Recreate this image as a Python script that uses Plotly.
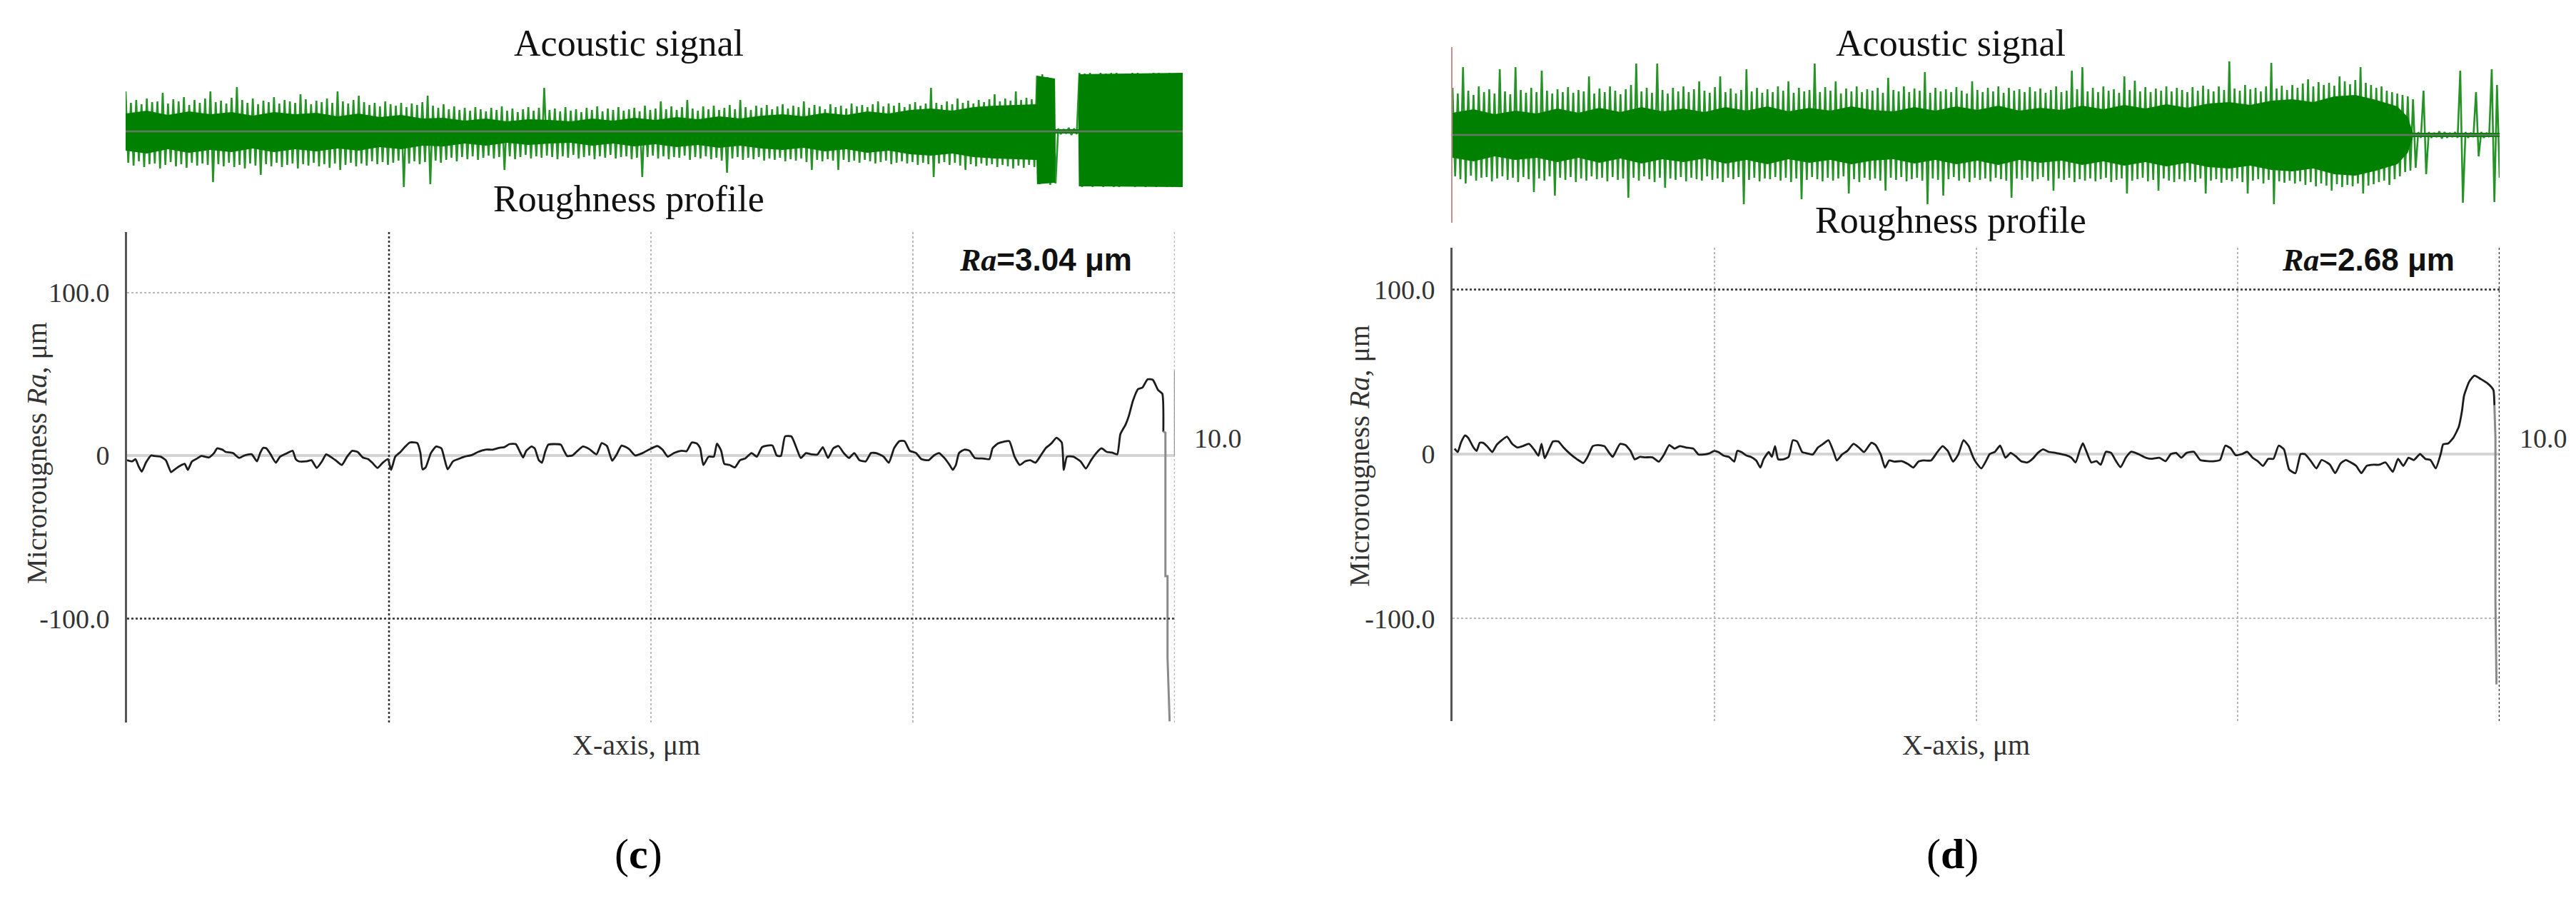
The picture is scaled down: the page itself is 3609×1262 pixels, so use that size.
import plotly.graph_objects as go

# canvas size
W, H = 3609, 1262

# ---- roughness profile (c) ----
rough_c_x = [0.0, 0.5, 0.8, 1.1, 1.4, 1.8, 2.3, 2.6, 3.2, 3.7, 4.2, 4.5, 5.0, 5.5, 5.8, 6.2, 6.7, 7.1,
             7.8, 8.3, 8.6, 9.1, 9.4, 10.1, 10.7, 11.2, 11.9, 12.4, 12.7, 13.0, 13.3, 13.7, 14.2, 14.6,
             15.3, 15.8, 16.1, 16.4, 17.1, 17.6, 18.1, 18.6, 19.0, 19.4, 19.9, 20.5, 21.0, 21.5, 22.0,
             22.5, 23.0, 23.4, 23.9, 24.4, 24.9, 25.2, 25.6, 26.1, 26.5, 27.0, 27.7, 28.0, 28.2, 28.5,
             29.0, 29.5, 30.0, 30.3, 30.6, 31.1, 31.6, 32.2, 32.9, 33.5, 34.2, 34.9, 35.5, 36.0, 36.5,
             37.1, 37.5, 37.8, 38.1, 38.6, 38.9, 39.3, 39.6, 39.9, 40.2, 40.7, 41.4, 41.7, 42.0, 42.5,
             43.0, 43.5, 44.1, 44.8, 45.3, 45.8, 46.3, 46.7, 47.2, 47.9, 48.5, 49.2, 49.8,
             50.6, 51.1, 51.6, 52.2, 52.9, 53.4, 53.9, 54.4, 54.7, 55.0, 55.5, 56.0, 56.3, 56.7, 57.0,
             57.5, 58.0, 58.5, 59.0, 59.6, 60.1, 60.6, 61.1, 61.6, 62.0, 62.4, 62.8, 63.4, 63.9, 64.3,
             64.8, 65.3, 65.9, 66.4, 66.9, 67.4, 67.9, 68.4, 68.9, 69.4, 69.9, 70.5, 71.0, 71.5, 72.2,
             72.7, 73.2, 73.7, 74.2, 74.7, 75.3, 75.8, 76.5, 77.0, 77.5, 78.0, 78.5, 78.8, 79.1, 79.4,
             79.9, 80.4, 80.9, 81.6, 82.3, 82.6, 83.1, 83.7, 84.2, 84.7, 85.2, 85.7, 86.2, 86.7, 87.2,
             87.7, 88.2, 88.7, 89.2, 89.4, 89.7, 90.3, 91.0, 91.5, 92.0, 92.5, 93.0, 93.5, 94.0, 94.5,
             94.8, 95.3, 95.6, 96.0, 96.5, 96.9, 97.4, 97.9, 98.4, 98.8, 98.9]
rough_c_y = [-2.9, -3.6, -2.2, -6.6, -9.9, -4.4, 0.0, -0.3, -0.7, -2.9, -10.2, -8.8, -6.6, -5.1, -8.8,
             -3.6, -1.8, -0.3, -1.2, 1.5, 4.4, 3.6, 2.2, 1.5, -1.5, 0.0, 0.7, -3.6, 1.5, 4.7, 4.4, 0.7,
             -4.4, -0.7, 1.5, 2.9, -2.2, -3.6, -3.6, -2.9, -7.6, -3.6, 0.7, -0.7, -2.9, -5.8, -0.7, 2.9,
             2.2, -1.2, -2.2, -4.4, -7.6, -4.4, -2.2, -8.8, -0.7, 2.2, 5.1, 8.0, 7.6, 1.5, -8.5, -7.3,
             1.5, 5.5, 4.4, -2.2, -8.5, -3.6, -2.2, -0.7, 0.3, 2.2, 3.6, 3.6, 4.7, 5.1, 7.0, 7.0, 2.2,
             -1.2, 2.9, 5.5, 4.4, -2.9, -4.4, 2.2, 6.6, 7.0, 6.6, 2.9, -0.3, 0.0, 2.9, 5.5, 4.0, 0.7,
             7.6, 5.8, -3.2, 0.3, 6.1, 4.0, 0.0, 1.5, 3.6,
             5.8, 3.6, -0.7, 1.5, 2.9, 2.6, 8.0, 7.3, 4.4, -5.8, -0.7, -0.7, 7.3, 2.9, -5.1, -5.8, -7.3,
             -2.9, -1.8, 1.5, -0.7, 5.1, 6.1, 6.1, 0.0, -0.3, 11.7, 11.7, 4.4, -1.5, 1.5, 0.7, 0.7, 5.1,
             -1.5, 4.4, 5.8, 1.5, -1.5, 1.5, -2.9, -3.6, 1.5, 1.5, -0.7, -4.4, 4.4, 8.8, 8.8, 2.9, 1.5,
             -2.2, -2.9, 0.0, 1.5, -1.5, -5.8, -8.8, -5.8, 1.5, 3.6, 2.9, -1.5, -1.8, -2.2, 4.4, 7.3,
             8.5, 8.8, -0.7, -5.8, -3.6, -2.9, -4.4, 0.0, 4.7, 7.3, 10.9, 8.0, -8.8, -0.7, -0.7, -3.6,
             -8.0, -2.9, 1.5, 4.4, 2.2, 1.8, 0.7, 13.1, 19.0, 24.1, 33.6, 40.8, 41.6, 46.7, 46.4, 40.1,
             37.9, 14.6]
drop_c_x = [98.9, 99.1, 99.1, 99.3, 99.3, 99.5]
drop_c_y = [14.6, 14.0, -74.0, -74.0, -124.0, -163.0]

# ---- roughness profile (d) ----
rough_d_x = [0.2, 0.5, 0.8, 1.2, 1.5, 2.0, 2.3, 2.6, 2.9, 3.3, 3.8, 4.2, 4.7, 5.2, 5.7, 6.2, 6.7, 7.3,
             7.8, 8.2, 8.5, 8.8, 9.1, 9.6, 10.1, 10.6, 11.3, 11.9, 12.5, 12.9, 13.4, 13.9, 14.5, 15.0,
             15.3, 16.0, 16.5, 17.0, 17.4, 17.9, 18.4, 19.1, 19.7, 20.2, 20.7, 21.2, 21.7, 22.3, 23.0,
             23.5, 24.0, 24.5, 25.0, 25.4, 25.9, 26.4, 26.9, 27.2, 27.6, 28.1, 28.5, 29.0, 29.4, 29.7,
             30.2, 30.5, 30.8, 31.1, 31.6, 32.1, 32.5, 32.9, 33.4, 33.9, 34.4, 34.9, 35.4, 35.9, 36.4,
             36.7, 37.2, 37.7, 38.3, 38.8, 39.3, 40.0, 40.4, 40.9, 41.3, 41.7, 42.2, 42.9, 43.5, 44.0,
             44.5, 45.0, 45.7, 46.3, 46.8, 47.3, 47.8, 48.3, 48.8, 49.3, 49.7,
             50.0, 50.5, 51.0, 51.3, 51.8, 52.3, 52.8, 53.3, 53.8, 54.3, 54.9, 55.4, 55.9, 56.4, 56.9,
             57.6, 58.1, 58.6, 59.1, 59.5, 59.9, 60.2, 60.5, 61.0, 61.5, 61.9, 62.4, 62.9, 63.3, 63.8,
             64.3, 64.8, 65.5, 66.2, 66.8, 67.5, 68.1, 68.6, 69.1, 69.6, 70.1, 70.8, 71.4, 72.1, 72.8,
             73.3, 73.8, 74.3, 74.8, 75.4, 75.9, 76.4, 76.9, 77.4, 77.9, 78.4, 78.9, 79.4, 79.9, 80.5,
             81.0, 81.4, 81.9, 82.5, 83.0, 83.5, 83.8, 84.3, 84.8, 85.3, 85.8, 86.3, 86.8, 87.3, 88.0,
             88.5, 89.1, 89.8, 90.3, 90.8, 91.3, 91.8, 92.4, 92.9, 93.4, 93.9, 94.4, 94.6, 95.1, 95.6,
             96.1, 96.4, 96.6, 97.1, 97.6, 98.2, 98.9, 99.4, 99.5]
rough_d_y = [3.3, 1.2, 6.9, 11.3, 9.8, 4.0, 1.9, 6.9, 6.9, 4.8, 1.2, 5.5, 8.4, 10.6, 6.2, 4.0, 4.8, 6.2,
             2.6, -1.0, 6.2, -2.5, 1.2, 7.7, 7.7, 4.0, -0.3, -3.2, -5.4, -1.7, 4.8, 5.5, 4.8, 0.4, -1.7,
             6.2, 5.5, 1.9, -3.2, -1.7, -2.0, -2.0, -4.6, -0.3, 5.5, 3.3, 4.8, 4.0, 3.3, -0.3, -0.3, 0.4,
             1.9, 1.2, -1.0, -1.7, -4.6, 1.9, 1.2, -1.0, -1.7, -3.9, -8.2, -3.2, 1.2, -1.7, 4.8, -3.2,
             -3.2, -1.7, 8.4, 7.7, 1.2, 0.4, -0.3, 4.0, 6.2, 8.4, 1.2, -3.9, -0.3, 1.9, 6.2, 4.0, 1.2,
             6.9, 5.5, -0.3, -8.2, -3.9, -4.6, -4.3, -6.1, -8.2, -4.6, -3.9, -3.9, 1.2, 4.8, 1.9, -4.6,
             -0.3, 8.4, 4.8, -1.7,
             -5.1, -8.7, -3.6, 0.0, 1.4, 5.1, -2.2, 0.7, -1.4, -4.3, -5.1, -2.9, 0.7, 2.9, 1.4, 0.7, 0.0,
             -0.7, -2.2, -5.1, 2.2, 6.5, 2.2, -5.1, -4.3, -6.5, 1.4, 0.7, -3.6, -8.0, -2.2, 1.4, 0.0,
             -2.2, -2.9, -2.2, -4.3, 0.0, 0.7, -2.2, 0.7, 1.4, -3.6, -4.3, -4.3, -3.6, 5.1, 3.6, -0.7,
             0.0, 1.4, -2.2, -4.3, -7.2, -2.9, -2.9, 5.1, 2.9, -9.4, -11.6, 0.0, 0.0, -3.6, -8.7, -3.6,
             -5.1, -6.5, -11.6, -5.8, -3.6, -5.1, -7.2, -11.6, -7.2, -6.5, -6.5, -5.1, -10.8, -2.9,
             -7.2, -2.2, -3.6, 0.0, -2.9, -3.6, -8.7, 0.7, 5.8, 6.5, 10.1, 16.6, 26.0, 35.4, 44.1,
             47.7, 45.6, 42.7, 39.0, 29.6]
drop_d_x = [99.5, 99.6, 99.6, 99.7]
drop_d_y = [29.6, 10.0, -90.0, -140.0]
scale_bar = [0.0, 52.0]

# ---- acoustic signal (c): positive / negative peak per sample ----
ac_c_top = [56, 40, 44, 38, 46, 41, 42, 54, 39, 45, 42, 48, 37, 44, 40, 46, 56, 41, 43, 39,
            47, 62, 44, 40, 46, 38, 43, 41, 48, 39, 44, 42, 40, 52, 45, 38, 43, 41, 46, 40,
            56, 42, 39, 44, 50, 41, 37, 40, 35, 42, 38, 36, 40, 34, 39, 37, 41, 50, 36, 33,
            38, 31, 35, 30, 33, 29, 34, 31, 28, 33, 30, 35, 29, 32, 27, 31, 34, 29, 33, 61,
            30, 32, 28, 34, 29, 31, 27, 33, 30, 35, 28, 32, 30, 34, 29, 31, 33, 28, 36, 30,
            32, 42, 31, 35, 30, 34, 44, 32, 29, 35, 31, 36, 30, 33, 37, 31, 44, 34, 30, 36,
            33, 37, 31, 35, 38, 32, 36, 34, 42, 33, 37, 35, 31, 38, 34, 36, 32, 39, 35, 37,
            34, 38, 42, 35, 39, 36, 40, 34, 38, 41, 36, 39, 61, 40, 37, 42, 38, 46, 40, 43,
            39, 44, 41, 45, 52, 42, 46, 43, 56, 44, 47, 45, 78, 80, 76, 74, 4, 3, 5, 4,
            82, 81, 82, 80, 82, 81, 82, 82, 80, 81, 82, 82, 81, 80, 82, 82, 81, 82, 80, 82]
ac_c_bot = [-44, -48, -42, -50, -46, -45, -52, -47, -43, -49, -46, -51, -44, -48, -45, -47, -71, -46, -49, -44,
            -50, -47, -52, -45, -48, -61, -46, -49, -44, -50, -47, -45, -52, -46, -48, -44, -49, -46, -51, -45,
            -54, -47, -44, -49, -45, -48, -42, -46, -43, -47, -44, -41, -78, -45, -42, -46, -43, -74, -41, -44,
            -40, -37, -42, -36, -39, -35, -40, -37, -34, -38, -36, -54, -35, -39, -36, -33, -38, -35, -37, -34,
            -36, -39, -35, -37, -33, -38, -36, -34, -39, -35, -37, -33, -38, -36, -35, -39, -37, -64, -36, -34,
            -38, -35, -39, -36, -37, -34, -40, -36, -38, -35, -39, -37, -41, -58, -38, -36, -40, -37, -39, -36,
            -41, -38, -40, -37, -42, -39, -41, -38, -43, -54, -40, -42, -39, -41, -54, -40, -43, -41, -44, -40,
            -42, -45, -43, -41, -46, -44, -42, -45, -43, -47, -44, -46, -64, -45, -43, -47, -44, -48, -54, -46,
            -49, -45, -48, -46, -50, -47, -49, -52, -48, -51, -47, -50, -74, -72, -75, -73, -4, -3, -5, -4,
            -78, -77, -78, -76, -78, -77, -78, -78, -76, -77, -78, -77, -78, -76, -78, -77, -78, -78, -76, -78]
# dense (solid) part of the acoustic trace
core_c_x = [0, 4, 8, 12, 16, 20, 24, 28, 32, 36, 40, 44, 48, 52, 56, 60, 64, 68, 72, 76, 80, 84,
            88, 92, 96, 100, 104, 108, 112, 116, 120, 124, 128, 132, 136, 140, 144, 148, 152, 156,
            160, 164, 168, 171.9, 172, 175.4, 175.5, 179.8, 179.9, 199.5]
core_c_top = [25, 29, 23, 28, 24, 27, 22, 27, 24, 26, 21, 25, 20, 23, 18, 19, 15, 18, 14, 17, 16, 14,
              18, 15, 19, 16, 20, 17, 21, 18, 22, 24, 21, 26, 23, 28, 25, 30, 32, 29,
              34, 36, 37, 38, 78, 74, 3, 3, 80, 82]
core_c_bot = [-27, -31, -25, -30, -26, -29, -24, -29, -25, -28, -24, -27, -22, -25, -20, -21, -17, -20,
              -16, -19, -17, -16, -20, -17, -21, -18, -22, -19, -23, -20, -24, -26, -23, -28, -25, -30,
              -27, -32, -34, -31, -36, -38, -39, -40, -74, -72, -3, -3, -77, -78]

# ---- acoustic signal (d) ----
ac_d_top = [66, 58, 95, 62, 56, 68, 60, 64, 58, 92, 61, 57, 95, 63, 59, 66, 60, 90, 62, 58,
            64, 60, 67, 59, 63, 61, 82, 58, 65, 60, 68, 62, 57, 64, 70, 100, 61, 66, 59, 100,
            63, 58, 66, 61, 68, 60, 64, 75, 62, 59, 67, 82, 60, 65, 58, 63, 92, 61, 66, 59,
            64, 60, 68, 62, 75, 59, 66, 61, 63, 100, 60, 67, 62, 75, 58, 65, 61, 68, 60, 64,
            62, 66, 59, 80, 63, 61, 68, 60, 65, 62, 88, 59, 66, 61, 64, 60, 67, 62, 58, 75,
            63, 60, 66, 61, 68, 59, 66, 62, 64, 60, 67, 61, 65, 59, 63, 68, 60, 62, 90, 64,
            95, 61, 66, 60, 68, 62, 64, 59, 82, 63, 76, 61, 67, 60, 65, 62, 68, 61, 66, 63,
            60, 67, 62, 69, 64, 61, 68, 63, 103, 65, 62, 70, 64, 66, 61, 68, 101, 65, 69, 63,
            70, 66, 72, 78, 68, 74, 70, 73, 69, 82, 75, 71, 77, 95, 73, 70, 66, 68, 62, 60,
            58, 56, 54, 50, 4, 62, 4, 3, 5, 4, 3, 4, 90, 4, 3, 60, 4, 3, 92, 70]
ac_d_bot = [-58, -62, -68, -57, -64, -60, -59, -65, -61, -58, -63, -60, -66, -59, -62, -80, -61, -64, -58, -85,
            -60, -63, -59, -66, -61, -64, -58, -62, -60, -65, -59, -63, -61, -88, -60, -64, -58, -62, -66, -60,
            -74, -61, -63, -59, -65, -60, -62, -64, -58, -63, -61, -66, -60, -62, -59, -97, -63, -60, -65, -61,
            -62, -59, -64, -60, -66, -61, -90, -63, -59, -62, -65, -60, -64, -61, -58, -82, -62, -66, -60, -63,
            -61, -64, -78, -60, -63, -59, -65, -62, -60, -64, -97, -61, -63, -85, -62, -59, -64, -61, -66, -60,
            -63, -61, -65, -60, -62, -64, -88, -61, -63, -60, -65, -62, -59, -64, -78, -61, -63, -60, -66, -62,
            -64, -61, -65, -62, -60, -66, -63, -61, -82, -64, -62, -60, -65, -63, -78, -61, -64, -66, -62, -65,
            -63, -66, -61, -82, -64, -62, -67, -63, -65, -61, -66, -82, -64, -62, -68, -63, -97, -65, -67, -64,
            -68, -65, -70, -66, -72, -68, -71, -78, -69, -73, -70, -72, -68, -82, -71, -69, -66, -64, -70, -62,
            -58, -52, -50, -46, -4, -55, -4, -3, -5, -4, -3, -4, -95, -4, -3, -30, -4, -3, -94, -60]
core_d_x = [0, 4, 8, 12, 16, 20, 24, 28, 32, 36, 40, 44, 48, 52, 56, 60, 64, 68, 72, 76, 80, 84,
            88, 92, 96, 100, 104, 108, 112, 116, 120, 124, 128, 132, 136, 140, 144, 148, 152, 156,
            160, 164, 168, 172, 176, 180, 182, 183, 199.5]
core_d_top = [31, 36, 29, 34, 30, 37, 31, 38, 32, 39, 33, 37, 32, 39, 34, 40, 33, 38, 34, 40, 35, 33,
              39, 34, 40, 35, 41, 34, 38, 35, 41, 36, 42, 37, 43, 38, 44, 46, 42, 48,
              50, 46, 54, 56, 49, 40, 25, 3, 3]
core_d_bot = [-32, -37, -30, -35, -32, -38, -32, -39, -33, -40, -34, -38, -33, -40, -35, -41, -34, -39,
              -35, -41, -36, -34, -40, -35, -41, -36, -42, -35, -39, -36, -42, -37, -43, -38, -44, -39,
              -45, -47, -43, -49, -51, -47, -55, -57, -50, -41, -25, -3, -3]

ra_labels = ["<b><i>Ra</i><span style='font-family:Liberation Sans'>=3.04 μm</span></b>",
             "<b><i>Ra</i><span style='font-family:Liberation Sans'>=2.68 μm</span></b>"]
panel_labels = ["(<b>c</b>)", "(<b>d</b>)"]

SERIF = "Liberation Serif"
GREEN = "#008000"
LIGHT_GRID = "#b8b8b8"
DARK_GRID = "#333333"


def zigzag(top, bot):
    xs, ys = [], []
    for i, (t, b) in enumerate(zip(top, bot)):
        xs += [i, i + 0.5]
        ys += [t, b]
    return xs, ys


fig = go.Figure()

# roughness profiles
for px, py, dx, dy, xa, ya in [
    (rough_c_x, rough_c_y, drop_c_x, drop_c_y, "x", "y"),
    (rough_d_x, rough_d_y, drop_d_x, drop_d_y, "x2", "y2"),
]:
    fig.add_trace(go.Scatter(x=px, y=py, mode="lines",
                             line=dict(color="#1c1c1c", width=2.8, shape="spline", smoothing=0.5),
                             xaxis=xa, yaxis=ya))
    fig.add_trace(go.Scatter(x=dx, y=dy, mode="lines",
                             line=dict(color="#8a8a8a", width=3), xaxis=xa, yaxis=ya))

# acoustic signals: spiky peaks + dense core
for cx, ct, cb, top, bot, xa, ya in [
    (core_c_x, core_c_top, core_c_bot, ac_c_top, ac_c_bot, "x3", "y3"),
    (core_d_x, core_d_top, core_d_bot, ac_d_top, ac_d_bot, "x4", "y4"),
]:
    zx, zy = zigzag(top, bot)
    fig.add_trace(go.Scatter(x=zx, y=zy, mode="lines",
                             line=dict(color="rgba(0,128,0,0.85)", width=2.6),
                             xaxis=xa, yaxis=ya))
    fig.add_trace(go.Scatter(x=cx + cx[::-1], y=ct + cb[::-1], fill="toself",
                             fillcolor=GREEN, mode="lines", line=dict(width=0),
                             xaxis=xa, yaxis=ya))

rough_x = dict(range=[0, 100], showticklabels=False, ticks="", showgrid=True, dtick=25,
               gridcolor=LIGHT_GRID, griddash="dot", gridwidth=2, zeroline=False, showline=False)
rough_y = dict(tickvals=[-100, 0, 100], ticktext=["-100.0", "0", "100.0"], ticks="",
               showgrid=True, gridcolor=LIGHT_GRID, griddash="dot", gridwidth=2,
               zeroline=True, zerolinecolor="#d4d4d4", zerolinewidth=4,
               showline=True, linecolor="#555555", linewidth=3, ticklabelstandoff=14,
               tickfont=dict(family=SERIF, size=38, color="#333333"))
hidden = dict(visible=False)

fig.update_layout(
    width=W, height=H,
    margin=dict(l=0, r=0, t=0, b=0),
    paper_bgcolor="white", plot_bgcolor="rgba(0,0,0,0)",
    showlegend=False,
    xaxis=dict(domain=[170 / W, 1638 / W], anchor="y", **rough_x),
    yaxis=dict(domain=[1 - 1004 / H, 1 - 317 / H], range=[-163.7, 137.0], anchor="x", **rough_y),
    xaxis2=dict(domain=[2027 / W, 3494 / W], anchor="y2", **rough_x),
    yaxis2=dict(domain=[1 - 1002 / H, 1 - 339 / H], range=[-162.3, 125.4], anchor="x2", **rough_y),
    xaxis3=dict(domain=[168 / W, 1649 / W], range=[0, 199.5], anchor="y3", **hidden),
    yaxis3=dict(domain=[1 - 262 / H, 1 - 90 / H], range=[-86, 86], anchor="x3", **hidden),
    xaxis4=dict(domain=[2027 / W, 3494 / W], range=[0, 199.5], anchor="y4", **hidden),
    yaxis4=dict(domain=[1 - 304 / H, 1 - 58 / H], range=[-123, 123], anchor="x4",
                showline=True, linecolor="#c98f8f", linewidth=2, showticklabels=False,
                showgrid=False, zeroline=False, ticks=""),
)

# darker dotted grid lines, right edges, scale bar and baselines
line_dot = lambda c: dict(color=c, width=2.5, dash="dot")
fig.add_shape(type="line", xref="x", yref="y domain", x0=25, x1=25, y0=0, y1=1, line=line_dot(DARK_GRID))
fig.add_shape(type="line", xref="x domain", yref="y", x0=0, x1=1, y0=-100, y1=-100, line=line_dot(DARK_GRID))
fig.add_shape(type="line", xref="x", yref="y domain", x0=100, x1=100, y0=0, y1=1, line=line_dot(LIGHT_GRID))
fig.add_shape(type="line", xref="x", yref="y", x0=100, x1=100, y0=scale_bar[0], y1=scale_bar[1],
              line=dict(color="#9a9a9a", width=2.5))
fig.add_shape(type="line", xref="x2", yref="y2 domain", x0=100, x1=100, y0=0, y1=1, line=line_dot(DARK_GRID))
fig.add_shape(type="line", xref="x2 domain", yref="y2", x0=0, x1=1, y0=100, y1=100, line=line_dot(DARK_GRID))
for xa, ya in [("x3", "y3"), ("x4", "y4")]:
    fig.add_shape(type="line", xref=xa + " domain", yref=ya, x0=0, x1=1, y0=0, y1=0,
                  line=dict(color="#667766", width=2.5), layer="above")

title_font = dict(family=SERIF, size=52, color="#111111")
label_font = dict(family=SERIF, size=40, color="#333333")
ann = []
for cx, ay, ry in [(873, 52, 270), (2725, 52, 300)]:
    ann.append(dict(text="Acoustic signal", x=cx / W, y=1 - ay / H, font=title_font))
    ann.append(dict(text="Roughness profile", x=cx / W, y=1 - ry / H, font=title_font))
for text, cx in zip(ra_labels, [1457, 3310]):
    ann.append(dict(text=text, x=cx / W, y=1 - 356 / H,
                    font=dict(family=SERIF, size=44, color="#111111")))
for lx in [1663, 3520]:
    ann.append(dict(text="10.0", x=lx / W, y=1 - 606 / H, xanchor="left",
                    font=dict(family=SERIF, size=38, color="#333333")))
for tx, ty in [(43, 627), (1896, 630)]:
    ann.append(dict(text="Microrougness <i>Ra</i>, μm", x=tx / W, y=1 - ty / H,
                    textangle=-90, font=label_font))
for xx in [883, 2746]:
    ann.append(dict(text="X-axis, μm", x=xx / W, y=1 - 1035 / H, font=label_font))
for text, px in zip(panel_labels, [886, 2727]):
    ann.append(dict(text=text, x=px / W, y=1 - 1188 / H,
                    font=dict(family=SERIF, size=60, color="#000000")))
for a in ann:
    a.update(xref="paper", yref="paper", showarrow=False)
    a.setdefault("xanchor", "center")
    a.setdefault("yanchor", "middle")
fig.update_layout(annotations=ann)

fig.write_html("out.html")
